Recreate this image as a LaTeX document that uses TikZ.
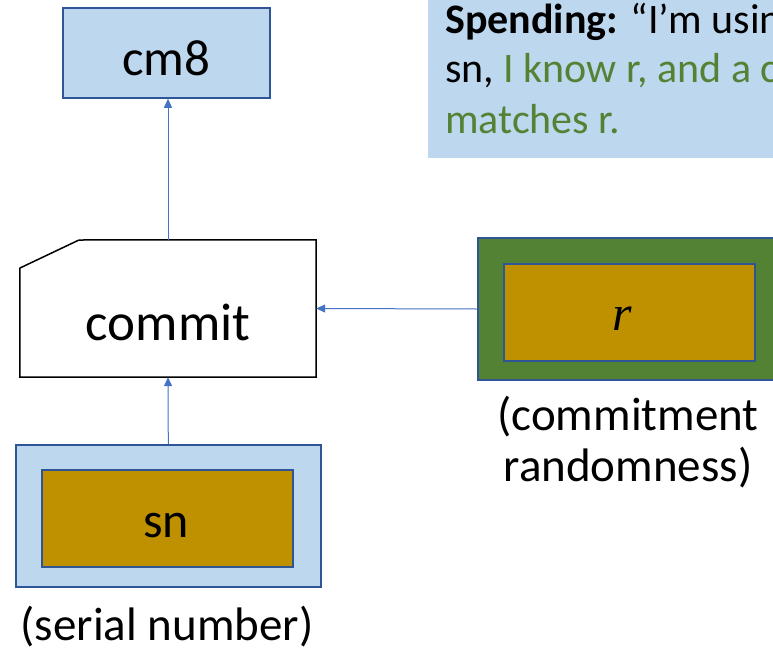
\documentclass[tikz,border=0pt]{standalone}
\usepackage{fontspec}
\setmainfont{Carlito}
\newfontfamily\varfont{Liberation Serif}
\usetikzlibrary{arrows.meta}
\begin{document}
\begin{tikzpicture}[x=1pt,y=-1pt,
  lightfill/.style={fill=boxblue,draw=edgeblue,line width=1.5pt},
  goldbox/.style={fill=gold,draw=edgeblue,line width=2pt,minimum width=251pt,minimum height=97pt,inner sep=0pt},
  arr/.style={draw=arrowblue,line width=1pt,-{Triangle[length=9pt,width=8pt]}},
  txt/.style={inner sep=0pt,anchor=base},
  lbl/.style={txt,font=\fontsize{47}{52}\selectfont}]
\definecolor{boxblue}{HTML}{BDD7EE}
\definecolor{edgeblue}{HTML}{2F5597}
\definecolor{gold}{HTML}{BF9000}
\definecolor{leaf}{HTML}{548235}
\definecolor{arrowblue}{HTML}{4472C4}
\useasboundingbox (0,0) rectangle (773,653);
\clip (0,0) rectangle (773,653);

% output commitment
\node[lightfill,minimum width=207pt,minimum height=90pt,inner sep=0pt] (cm8) at (166.5,53) {};
\node[txt,font=\fontsize{51}{55}\selectfont] (cm8txt) at (166.5,75) {cm8};

% spending statement
\fill[boxblue] (428,0) rectangle (800,158);
\node[anchor=base west,inner sep=0pt,font=\fontsize{42}{50}\selectfont] (spend1) at (445,33)
  {\textbf{Spending:} “I’m using};
\node[anchor=base west,inner sep=0pt,font=\fontsize{42}{50}\selectfont] (spend2) at (445,82)
  {sn, \textcolor{leaf}{I know r, and a commitment}};
\node[anchor=base west,inner sep=0pt,font=\fontsize{42}{50}\selectfont,text=leaf] (spend3) at (445,133)
  {matches r.};

% commit box with a cut corner
\node[minimum width=296pt,minimum height=137pt,inner sep=0pt] (commit) at (168,308.5) {};
\node[txt,font=\fontsize{53}{58}\selectfont] (committxt) at (168,340) {commit};
\draw[line width=1.5pt,line join=miter]
  (20,268) -- (79,240) -- (commit.north east) -- (commit.south east)
  -- (commit.south west) -- cycle;

% randomness
\node[fill=leaf,draw=edgeblue,line width=1.5pt,minimum width=303pt,minimum height=142pt,inner sep=0pt] (rout) at (629.5,309) {};
\node[goldbox] (rin) at (629.5,312.5) {};
\node[txt,font=\fontsize{50}{55}\varfont\itshape] (rtxt) at (622,330) {r};
\node[lbl] (rlab1) at (628,430) {(commitment};
\node[lbl] (rlab2) at (628,481) {randomness)};

% serial number
\node[lightfill,minimum width=305pt,minimum height=142pt,inner sep=0pt] (snout) at (168.3,515.8) {};
\node[goldbox] (snin) at (167,518.7) {};
\node[txt,font=\fontsize{50}{55}\selectfont] (sntxt) at (166,537) {sn};
\node[lbl] (snlab) at (167,640) {(serial number)};

% connectors
\draw[arr] (snout.north) -- (commit.south);
\draw[arr] (rout.west) -- (commit.east);
\draw[arr] (commit.north) -- (commit.north |- cm8.south);
\end{tikzpicture}
\end{document}
